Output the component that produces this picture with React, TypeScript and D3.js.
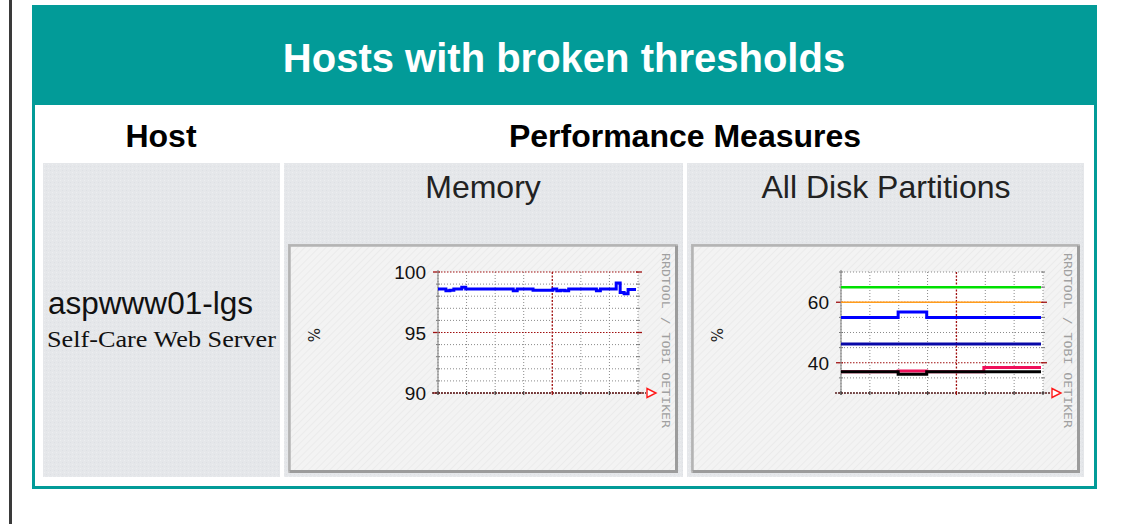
import React from 'react';
import * as d3 from 'd3';

// ---------- data ----------
const titleText = 'Hosts with broken thresholds';
const columnHeaders = ['Host', 'Performance Measures'];
const hostName = 'aspwww01-lgs';
const hostDescription = 'Self-Care Web Server';
const graphTitles = ['Memory', 'All Disk Partitions'];
const watermark = 'RRDTOOL / TOBI OETIKER';
const unitLabel = '%';

// Memory (%), 50 samples across the time window
const memoryValues = [
  98.6, 98.6, 98.45, 98.5, 98.6, 98.6, 98.75, 98.6, 98.6, 98.6,
  98.6, 98.6, 98.6, 98.6, 98.6, 98.6, 98.6, 98.6, 98.6, 98.45,
  98.6, 98.6, 98.6, 98.6, 98.5, 98.5, 98.5, 98.5, 98.5, 98.6,
  98.45, 98.5, 98.45, 98.6, 98.6, 98.6, 98.6, 98.6, 98.6, 98.6,
  98.45, 98.6, 98.6, 98.6, 98.6, 99.1, 98.3, 98.2, 98.55, 98.55,
];
const memoryDomain = [90, 100];
const memoryMinorStep = 1;
const memoryMajorTicks = [90, 95, 100];

// All disk partitions (%), 7 intervals
const diskDomain = [30, 70];
const diskMinorStep = 5;
const diskMajorTicks = [40, 60];
const diskGreen = [65, 65, 65, 65, 65, 65, 65];
const diskOrange = [60, 60, 60, 60, 60, 60, 60];
const diskBlue = [55, 55, 56.8, 55, 55, 55, 55];
const diskNavy = [46.2, 46.2, 46.2, 46.2, 46.2, 46.2, 46.2];
const diskPink = [37, 37, 37.3, 37, 37, 38.4, 38.4];
const diskBlack = [37, 37, 36.2, 37, 37, 37, 37];

const TEAL = '#029b98';

type Series = { values: number[]; color: string; width: number };

function RRDGraph(props: {
  frame: { x: number; y: number; w: number; h: number };
  plot: { x0: number; x1: number; y0: number; y1: number };
  domain: number[];
  minorStep: number;
  majorTicks: number[];
  series: Series[];
}) {
  const { frame, plot, domain, minorStep, majorTicks, series } = props;
  const y = d3.scaleLinear().domain(domain).range([plot.y1, plot.y0]);
  const gx = d3.scaleLinear().domain([0, 7]).range([plot.x0, plot.x1]);
  const minor = d3.range(domain[0], domain[1] + 1e-9, minorStep).filter((v) => !majorTicks.includes(v));
  const cols = d3.range(0, 8);
  return (
    <g>
      <rect x={frame.x} y={frame.y} width={frame.w} height={frame.h} fill="url(#framePat)" />
      <rect x={frame.x + 0.5} y={frame.y + 0.5} width={frame.w - 1} height={frame.h - 1} fill="none" stroke="#c4c4c4" strokeWidth={1} />
      <path d={`M${frame.x + 1.5},${frame.y + frame.h - 1.5}V${frame.y + 1.5}H${frame.x + frame.w - 1.5}`} fill="none" stroke="#b4b4b4" strokeWidth={2.5} />
      <path d={`M${frame.x + 1.5},${frame.y + frame.h - 1.5}H${frame.x + frame.w - 1.5}V${frame.y + 1.5}`} fill="none" stroke="#9c9c9c" strokeWidth={3} />
      <rect x={plot.x0} y={plot.y0} width={plot.x1 - plot.x0} height={plot.y1 - plot.y0} fill="#ffffff" />
      {/* minor horizontal grid */}
      {minor.map((v) => (
        <g key={'mh' + v}>
          <line x1={plot.x0} x2={plot.x1} y1={y(v)} y2={y(v)} stroke="#8a8a8a" strokeWidth={1} strokeDasharray="1 2" />
          <line x1={plot.x0 - 2} x2={plot.x0 + 2} y1={y(v)} y2={y(v)} stroke="#777" strokeWidth={1} />
          <line x1={plot.x1 - 2} x2={plot.x1 + 2} y1={y(v)} y2={y(v)} stroke="#777" strokeWidth={1} />
        </g>
      ))}
      {/* vertical grid */}
      {cols.map((i) => (
        <line key={'v' + i} x1={gx(i)} x2={gx(i)} y1={plot.y0} y2={plot.y1}
          stroke={i === 4 ? '#a01010' : '#8a8a8a'} strokeWidth={i === 4 ? 1.3 : 1}
          strokeDasharray={i === 4 ? '2 1.5' : '1 2'} />
      ))}
      {/* major horizontal grid */}
      {majorTicks.map((v) => (
        <g key={'Mh' + v}>
          <line x1={plot.x0} x2={plot.x1} y1={y(v)} y2={y(v)} stroke="#a01010" strokeWidth={1.2} strokeDasharray="1.5 1.5" />
          <line x1={plot.x0 - 5} x2={plot.x0 + 2} y1={y(v)} y2={y(v)} stroke="#a01010" strokeWidth={1.3} />
          <line x1={plot.x1 - 2} x2={plot.x1 + 4} y1={y(v)} y2={y(v)} stroke="#a01010" strokeWidth={1.3} />
        </g>
      ))}
      {/* y axis */}
      <line x1={plot.x0} x2={plot.x0} y1={plot.y0 - 2} y2={plot.y1 + 2} stroke="#8c8c8c" strokeWidth={1.2} />
      {/* data */}
      {series.map((s, k) => {
        const n = s.values.length;
        const xs = d3.scaleLinear().domain([0, n]).range([plot.x0, plot.x1 - 2]);
        const pts = s.values.concat([s.values[n - 1]]);
        const line = d3.line<number>().x((_, i) => xs(i)).y((d) => y(d)).curve(d3.curveStepAfter);
        return <path key={'s' + k} d={line(pts) || ''} fill="none" stroke={s.color} strokeWidth={s.width} />;
      })}
      {/* x axis */}
      <line x1={plot.x0 - 6} x2={plot.x1 + 8} y1={plot.y1} y2={plot.y1} stroke="#5a2020" strokeWidth={1.3} strokeDasharray="2 1" />
      {cols.map((i) => (
        <line key={'xt' + i} x1={gx(i)} x2={gx(i)} y1={plot.y1 - 2} y2={plot.y1 + 2} stroke={i === 4 ? '#a01010' : '#444'} strokeWidth={1.2} />
      ))}
      <path d={`M${plot.x1 + 9},${plot.y1 - 4.5}L${plot.x1 + 18},${plot.y1}L${plot.x1 + 9},${plot.y1 + 4.5}Z`} fill="#fff" stroke="#ff1a1a" strokeWidth={1.4} />
      {/* labels */}
      {majorTicks.map((v) => (
        <text key={'l' + v} x={plot.x0 - 12} y={y(v) + 7} textAnchor="end" fontFamily="Liberation Sans, Arial, sans-serif" fontSize={19} fill="#111">{v}</text>
      ))}
      <text transform={`translate(${frame.x + 25},${335}) rotate(90)`} textAnchor="middle" dominantBaseline="central" fontFamily="DejaVu Sans, sans-serif" fontSize={15} fill="#222">{unitLabel}</text>
      <text transform={`translate(${frame.x + frame.w - 12.5},${340.5}) rotate(90)`} textAnchor="middle" dominantBaseline="central" fontFamily="DejaVu Sans Mono, monospace" fontSize={10} fill="#a0a0a0" textLength={175} lengthAdjust="spacingAndGlyphs">{watermark}</text>
    </g>
  );
}

export default function App() {
  const W = 1122;
  const H = 524;
  const memSeries: Series[] = [{ values: memoryValues, color: '#0000ff', width: 3 }];
  const diskSeries: Series[] = [
    { values: diskGreen, color: '#00e000', width: 2.5 },
    { values: diskOrange, color: '#ff9d1a', width: 1.5 },
    { values: diskBlue, color: '#0000ff', width: 3 },
    { values: diskNavy, color: '#0808a8', width: 3 },
    { values: diskPink, color: '#f0105a', width: 3 },
    { values: diskBlack, color: '#000000', width: 3 },
  ];
  const sans = 'Liberation Sans, Arial, sans-serif';
  return (
    <svg width={W} height={H} viewBox={`0 0 ${W} ${H}`} style={{ position: 'absolute', left: 0, top: 0, display: 'block' }}>
      <defs>
        <pattern id="cellPat" width="4" height="4" patternUnits="userSpaceOnUse">
          <rect width="4" height="4" fill="#e5e7ea" />
          <rect x="0" y="0" width="1" height="1" fill="#eceef0" />
          <rect x="2" y="2" width="1" height="1" fill="#dde0e4" />
        </pattern>
        <pattern id="framePat" width="5" height="5" patternUnits="userSpaceOnUse" patternTransform="rotate(-45)">
          <rect width="5" height="5" fill="#f3f3f3" />
          <rect width="5" height="1" fill="#ebebeb" />
        </pattern>
      </defs>
      <rect width={W} height={H} fill="#ffffff" />
      <rect x={9} y={0} width={3} height={H} fill="#3a3a3a" />
      {/* teal box */}
      <rect x={33.5} y={6.5} width={1062} height={481} fill="#ffffff" stroke={TEAL} strokeWidth={3} />
      <rect x={32} y={5} width={1065} height={100} fill={TEAL} />
      <text x={564} y={72} textAnchor="middle" fontFamily={sans} fontWeight="bold" fontSize={40} fill="#ffffff">{titleText}</text>
      <text x={161} y={147} textAnchor="middle" fontFamily={sans} fontWeight="bold" fontSize={32} fill="#000">{columnHeaders[0]}</text>
      <text x={685} y={147} textAnchor="middle" fontFamily={sans} fontWeight="bold" fontSize={32} fill="#000">{columnHeaders[1]}</text>
      {/* cells */}
      <rect x={43} y={163} width={237} height={314} fill="url(#cellPat)" />
      <rect x={284} y={163} width={399} height={314} fill="url(#cellPat)" />
      <rect x={687} y={163} width={397} height={314} fill="url(#cellPat)" />
      <text x={48} y={314} fontFamily={sans} fontSize={31} fill="#111" textLength={205} lengthAdjust="spacingAndGlyphs">{hostName}</text>
      <text x={47} y={347} fontFamily="Liberation Serif, Times New Roman, serif" fontSize={23} fill="#111" textLength={229} lengthAdjust="spacingAndGlyphs">{hostDescription}</text>
      <text x={483} y={198} textAnchor="middle" fontFamily={sans} fontSize={32} fill="#222">{graphTitles[0]}</text>
      <text x={886} y={198} textAnchor="middle" fontFamily={sans} fontSize={32} fill="#222">{graphTitles[1]}</text>
      <RRDGraph
        frame={{ x: 288, y: 244, w: 390, h: 229 }}
        plot={{ x0: 438, x1: 638, y0: 272, y1: 393 }}
        domain={memoryDomain}
        minorStep={memoryMinorStep}
        majorTicks={memoryMajorTicks}
        series={memSeries}
      />
      <RRDGraph
        frame={{ x: 691, y: 244, w: 389, h: 229 }}
        plot={{ x0: 841, x1: 1043, y0: 272, y1: 393 }}
        domain={diskDomain}
        minorStep={diskMinorStep}
        majorTicks={diskMajorTicks}
        series={diskSeries}
      />
    </svg>
  );
}
